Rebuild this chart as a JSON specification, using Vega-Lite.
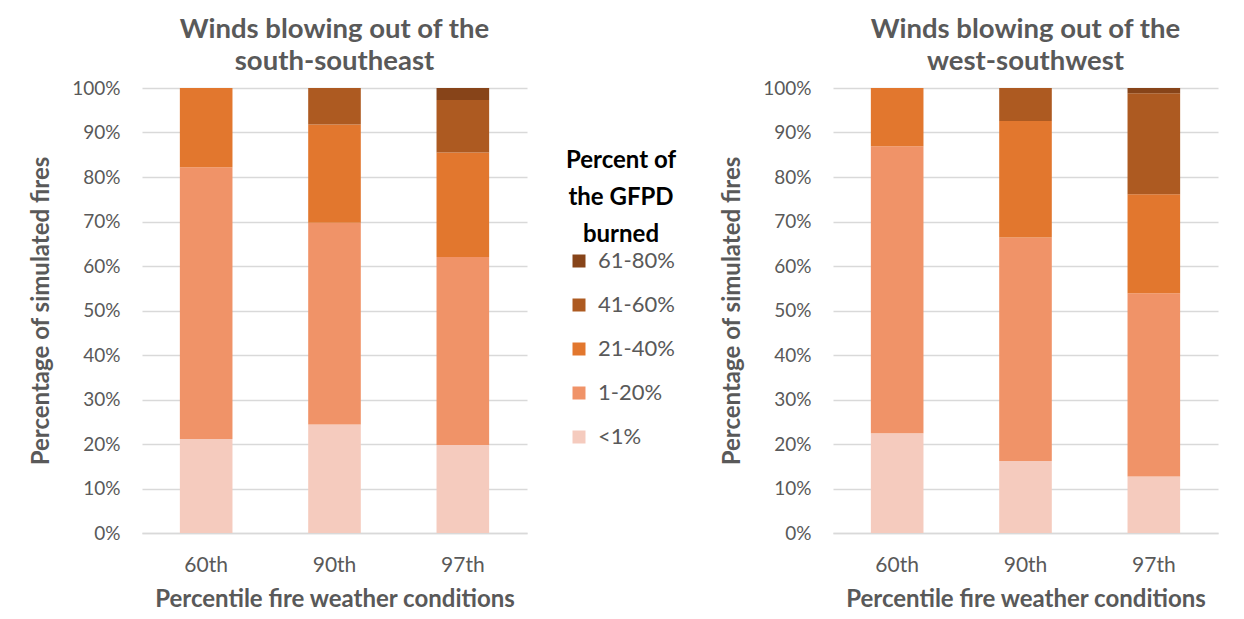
{
  "$schema": "https://vega.github.io/schema/vega-lite/v6.json",
  "padding": {"left": 29, "top": 15, "right": 5, "bottom": 5},
  "background": "white",
  "config": {
    "font": "Lato",
    "view": {"stroke": null},
    "axis": {"labelColor": "#595959", "titleColor": "#595959", "ticks": false, "labelFontSize": 19, "titleFontSize": 24, "titleFontWeight": "bold", "labelFont": "Lato", "titleFont": "Lato"},
    "title": {"font": "Lato", "fontSize": 27.5, "fontWeight": "bold", "color": "#595959", "lineHeight": 32, "offset": 0, "anchor": "middle"}
  },
  "data": {"values": [
    {"wind": "SSE", "pct": "60th", "burn": "<1%", "k": 1, "share": 21.1},
    {"wind": "SSE", "pct": "60th", "burn": "1-20%", "k": 2, "share": 61.1},
    {"wind": "SSE", "pct": "60th", "burn": "21-40%", "k": 3, "share": 17.8},
    {"wind": "SSE", "pct": "90th", "burn": "<1%", "k": 1, "share": 24.4},
    {"wind": "SSE", "pct": "90th", "burn": "1-20%", "k": 2, "share": 45.3},
    {"wind": "SSE", "pct": "90th", "burn": "21-40%", "k": 3, "share": 22.1},
    {"wind": "SSE", "pct": "90th", "burn": "41-60%", "k": 4, "share": 8.2},
    {"wind": "SSE", "pct": "97th", "burn": "<1%", "k": 1, "share": 19.8},
    {"wind": "SSE", "pct": "97th", "burn": "1-20%", "k": 2, "share": 42.2},
    {"wind": "SSE", "pct": "97th", "burn": "21-40%", "k": 3, "share": 23.5},
    {"wind": "SSE", "pct": "97th", "burn": "41-60%", "k": 4, "share": 11.8},
    {"wind": "SSE", "pct": "97th", "burn": "61-80%", "k": 5, "share": 2.7},
    {"wind": "WSW", "pct": "60th", "burn": "<1%", "k": 1, "share": 22.4},
    {"wind": "WSW", "pct": "60th", "burn": "1-20%", "k": 2, "share": 64.5},
    {"wind": "WSW", "pct": "60th", "burn": "21-40%", "k": 3, "share": 13.1},
    {"wind": "WSW", "pct": "90th", "burn": "<1%", "k": 1, "share": 16.2},
    {"wind": "WSW", "pct": "90th", "burn": "1-20%", "k": 2, "share": 50.2},
    {"wind": "WSW", "pct": "90th", "burn": "21-40%", "k": 3, "share": 26.2},
    {"wind": "WSW", "pct": "90th", "burn": "41-60%", "k": 4, "share": 7.4},
    {"wind": "WSW", "pct": "97th", "burn": "<1%", "k": 1, "share": 12.7},
    {"wind": "WSW", "pct": "97th", "burn": "1-20%", "k": 2, "share": 41.2},
    {"wind": "WSW", "pct": "97th", "burn": "21-40%", "k": 3, "share": 22.2},
    {"wind": "WSW", "pct": "97th", "burn": "41-60%", "k": 4, "share": 22.7},
    {"wind": "WSW", "pct": "97th", "burn": "61-80%", "k": 5, "share": 1.2}
  ]},
  "spacing": 43,
  "resolve": {"scale": {"color": "independent"}, "legend": {"color": "independent"}},
  "hconcat": [
    {
      "width": 385, "height": 445,
      "title": {"text": ["Winds blowing out of the", "south-southeast"]},
      "transform": [{"filter": "datum.wind == 'SSE'"}],
      "mark": {"type": "bar", "width": {"band": 0.41}},
      "encoding": {
        "x": {"field": "pct", "type": "ordinal", "sort": ["60th", "90th", "97th"], "title": "Percentile fire weather conditions",
              "scale": {"paddingInner": 0, "paddingOuter": 0},
              "axis": {"labelAngle": 0, "labelFontSize": 21, "labelPadding": 21, "titlePadding": 12, "domainColor": "#d9d9d9", "domainWidth": 1.5, "grid": false}},
        "y": {"field": "share", "type": "quantitative", "stack": "zero", "title": "Percentage of simulated fires",
              "scale": {"domain": [0, 100]},
              "axis": {"values": [0,10,20,30,40,50,60,70,80,90,100], "labelExpr": "datum.value + '%'", "domain": false, "gridColor": "#d9d9d9", "gridWidth": 1.5, "labelPadding": 22, "titlePadding": 18}},
        "color": {"field": "burn", "type": "nominal",
                  "scale": {"domain": ["61-80%", "41-60%", "21-40%", "1-20%", "<1%"], "range": ["#874419", "#AD5A21", "#E2772E", "#F09368", "#F5CBBE"]},
                  "legend": {"orient": "none", "legendX": 424, "legendY": 61, "title": ["Percent of", "the GFPD", "burned"],
                             "titleFontSize": 24, "titleFontWeight": "bold", "titleColor": "black", "titleLineHeight": 37, "titleAnchor": "middle", "titleAlign": "center", "titlePadding": 3,
                             "labelFontSize": 22, "labelColor": "#595959", "labelOffset": 8,
                             "symbolType": "square", "symbolSize": 169, "symbolStrokeWidth": 0, "symbolOpacity": 1, "rowPadding": 22}},
        "order": {"field": "k", "type": "quantitative"}
      }
    },
    {
      "width": 385, "height": 445,
      "title": {"text": ["Winds blowing out of the", "west-southwest"]},
      "transform": [{"filter": "datum.wind == 'WSW'"}],
      "mark": {"type": "bar", "width": {"band": 0.41}},
      "encoding": {
        "x": {"field": "pct", "type": "ordinal", "sort": ["60th", "90th", "97th"], "title": "Percentile fire weather conditions",
              "scale": {"paddingInner": 0, "paddingOuter": 0},
              "axis": {"labelAngle": 0, "labelFontSize": 21, "labelPadding": 21, "titlePadding": 12, "domainColor": "#d9d9d9", "domainWidth": 1.5, "grid": false}},
        "y": {"field": "share", "type": "quantitative", "stack": "zero", "title": "Percentage of simulated fires",
              "scale": {"domain": [0, 100]},
              "axis": {"values": [0,10,20,30,40,50,60,70,80,90,100], "labelExpr": "datum.value + '%'", "domain": false, "gridColor": "#d9d9d9", "gridWidth": 1.5, "labelPadding": 22, "titlePadding": 18}},
        "color": {"field": "burn", "type": "nominal",
                  "scale": {"domain": ["61-80%", "41-60%", "21-40%", "1-20%", "<1%"], "range": ["#874419", "#AD5A21", "#E2772E", "#F09368", "#F5CBBE"]},
                  "legend": null},
        "order": {"field": "k", "type": "quantitative"}
      }
    }
  ]
}
